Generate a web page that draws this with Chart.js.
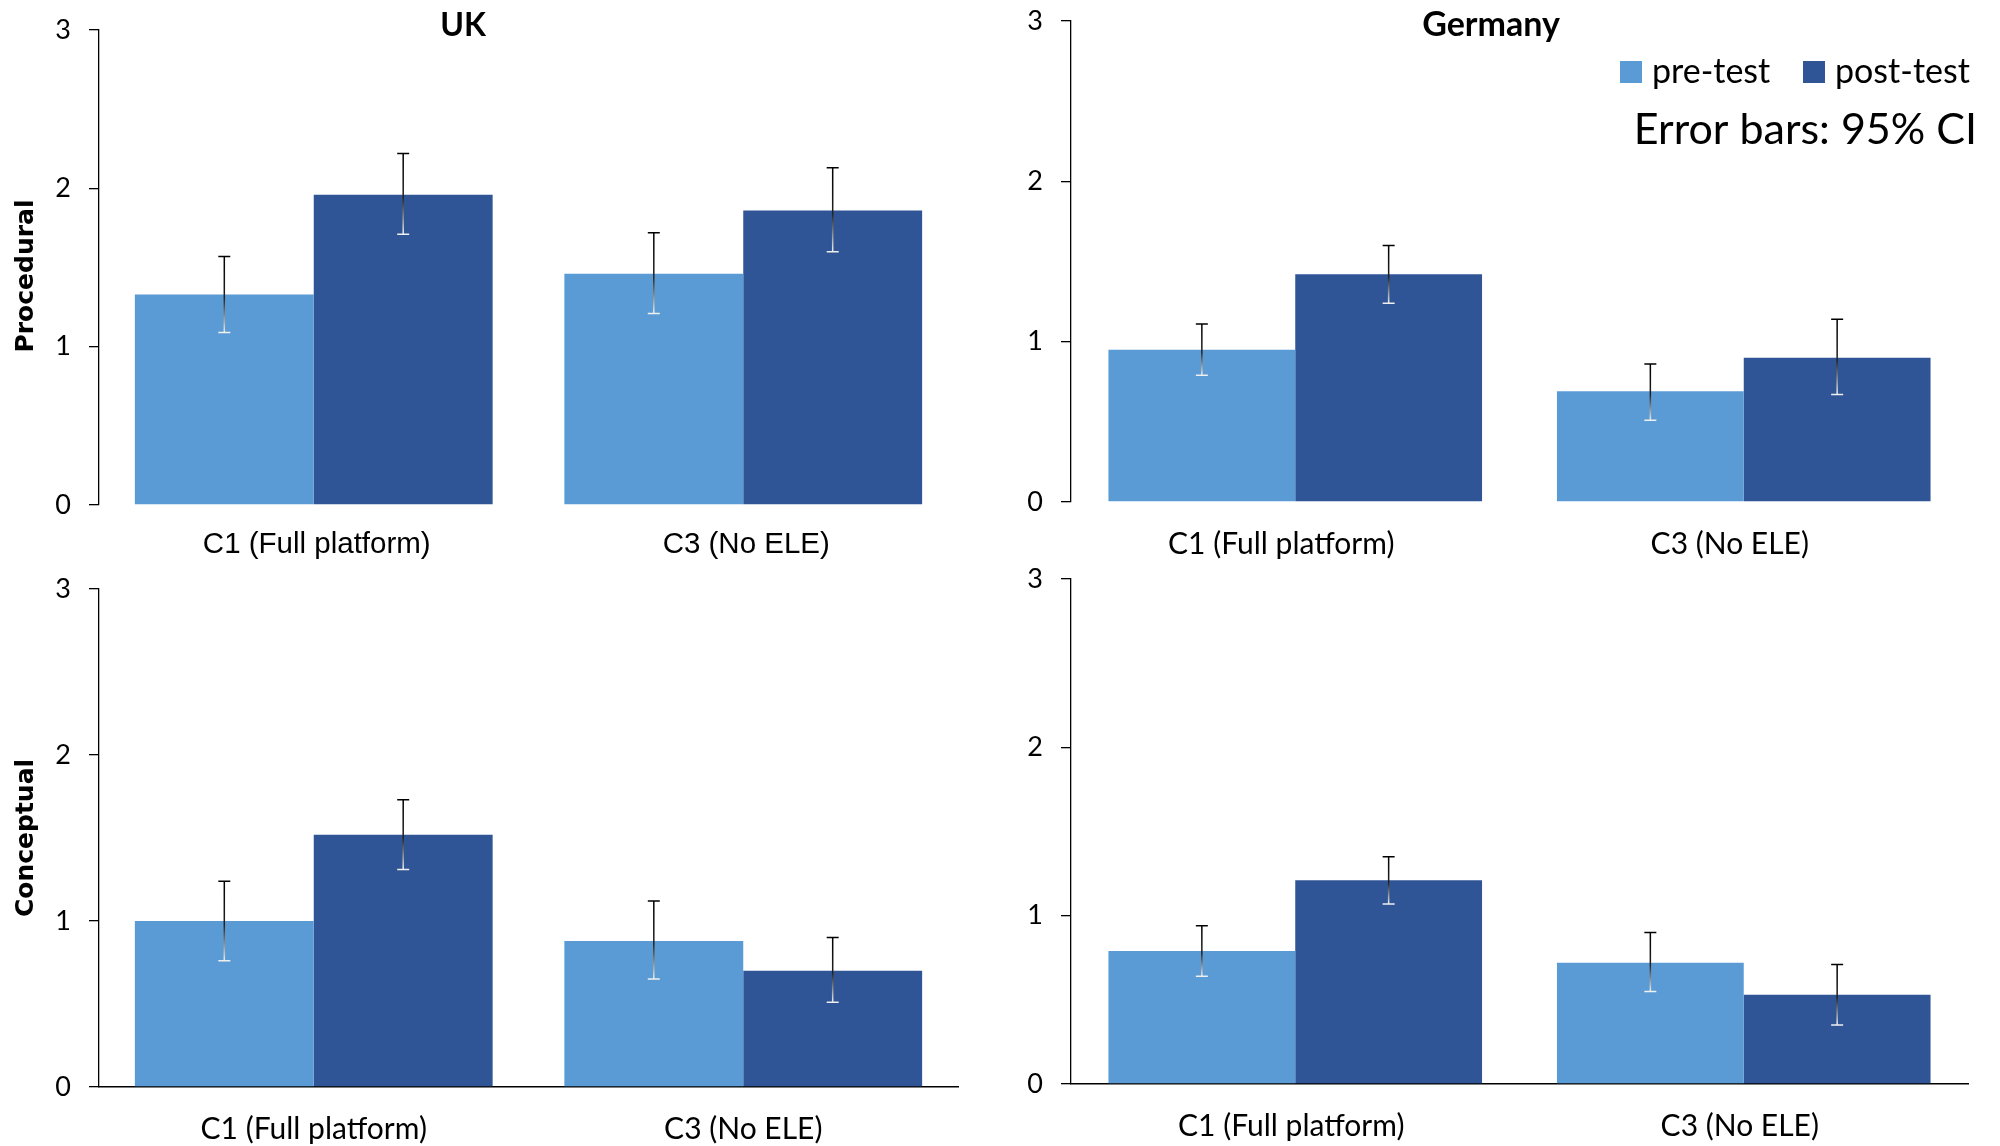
<!DOCTYPE html>
<html>
<head>
<meta charset="utf-8">
<script src="https://cdn.jsdelivr.net/npm/chart.js@4.4.1/dist/chart.umd.min.js"></script>
<style>
    html, body { margin: 0; padding: 0; background: #fff; }
    #wrap { position: relative; width: 2000px; height: 1146px; }
    #wrap canvas { position: absolute; left: 0; top: 0; }
</style>
</head>
<body>
<div id="wrap">
    <canvas id="ukProc" width="2000" height="1146"></canvas>
    <canvas id="deProc" width="2000" height="1146"></canvas>
    <canvas id="ukConc" width="2000" height="1146"></canvas>
    <canvas id="deConc" width="2000" height="1146"></canvas>
</div>
<script>
// data
const categories = ['C1 (Full platform)', 'C3 (No ELE)'];
const yTicks = [0, 1, 2, 3];

// UK - procedural
const ukProcPre = [1.33, 1.46];
const ukProcPreLow = [1.09, 1.21];
const ukProcPreHigh = [1.57, 1.72];
const ukProcPost = [1.96, 1.86];
const ukProcPostLow = [1.71, 1.60];
const ukProcPostHigh = [2.22, 2.13];

// Germany - procedural
const deProcPre = [0.95, 0.69];
const deProcPreLow = [0.79, 0.51];
const deProcPreHigh = [1.11, 0.86];
const deProcPost = [1.42, 0.90];
const deProcPostLow = [1.24, 0.67];
const deProcPostHigh = [1.60, 1.14];

// UK - conceptual
const ukConcPre = [1.00, 0.88];
const ukConcPreLow = [0.76, 0.65];
const ukConcPreHigh = [1.24, 1.12];
const ukConcPost = [1.52, 0.70];
const ukConcPostLow = [1.31, 0.51];
const ukConcPostHigh = [1.73, 0.90];

// Germany - conceptual
const deConcPre = [0.79, 0.72];
const deConcPreLow = [0.64, 0.55];
const deConcPreHigh = [0.94, 0.90];
const deConcPost = [1.21, 0.53];
const deConcPostLow = [1.07, 0.35];
const deConcPostHigh = [1.35, 0.71];

const PRE_COLOR = '#5B9BD5';
const POST_COLOR = '#2F5597';

// error bars: black at the top, fading to white at the lower cap
const errorBars = {
    id: 'errorBars',
    afterDatasetsDraw(chart) {
        const ctx = chart.ctx;
        const y = chart.scales.y;
        chart.data.datasets.forEach((ds, i) => {
            chart.getDatasetMeta(i).data.forEach((bar, j) => {
                const top = y.getPixelForValue(ds.ciHigh[j]);
                const bot = y.getPixelForValue(ds.ciLow[j]);
                const g = ctx.createLinearGradient(0, top, 0, bot);
                g.addColorStop(0, '#000');
                g.addColorStop(0.55, '#222');
                g.addColorStop(1, '#f0f0f0');
                ctx.save();
                ctx.strokeStyle = g;
                ctx.lineWidth = 1.5;
                ctx.beginPath();
                ctx.moveTo(bar.x, top); ctx.lineTo(bar.x, bot);
                ctx.moveTo(bar.x - 6, top); ctx.lineTo(bar.x + 6, top);
                ctx.moveTo(bar.x - 6, bot); ctx.lineTo(bar.x + 6, bot);
                ctx.stroke();
                ctx.restore();
            });
        });
    }
};

// panel title, row label, legend and note
const panelText = {
    id: 'panelText',
    afterDraw(chart, args, opts) {
        const ctx = chart.ctx;
        ctx.save();
        ctx.fillStyle = '#000';
        if (opts.title) {
            ctx.font = 'bold ' + opts.titleSize + 'px Lato';
            ctx.textAlign = 'center';
            ctx.textBaseline = 'alphabetic';
            ctx.fillText(opts.title, opts.titleX, opts.titleY);
        }
        if (opts.rowLabel) {
            ctx.save();
            ctx.translate(opts.rowX, opts.rowY);
            ctx.rotate(-Math.PI / 2);
            ctx.font = 'bold 25px "DejaVu Sans"';
            ctx.textAlign = 'center';
            ctx.textBaseline = 'middle';
            ctx.fillText(opts.rowLabel, 0, 0);
            ctx.restore();
        }
        if (opts.legend) {
            const ds = chart.data.datasets;
            const items = [[1620, 1652], [1803, 1835]];
            ctx.font = '34px Lato';
            ctx.textAlign = 'left';
            ctx.textBaseline = 'alphabetic';
            ds.forEach((d, i) => {
                ctx.fillStyle = d.backgroundColor;
                ctx.fillRect(items[i][0], 61, 22, 22);
                ctx.fillStyle = '#000';
                ctx.fillText(d.label, items[i][1], 83);
            });
            ctx.font = '43px Lato';
            ctx.textAlign = 'right';
            ctx.fillText('Error bars: 95% CI', 1977, 144);
        }
        ctx.restore();
    }
};

function makePanel(id, area, pre, preLow, preHigh, post, postLow, postHigh, opts) {
    const yWidth = 60, xHeight = 60;
    return new Chart(document.getElementById(id), {
        type: 'bar',
        data: {
            labels: categories,
            datasets: [{
                label: 'pre-test',
                data: pre,
                ciLow: preLow,
                ciHigh: preHigh,
                backgroundColor: PRE_COLOR,
                categoryPercentage: 0.833,
                barPercentage: 1.0
            }, {
                label: 'post-test',
                data: post,
                ciLow: postLow,
                ciHigh: postHigh,
                backgroundColor: POST_COLOR,
                categoryPercentage: 0.833,
                barPercentage: 1.0
            }]
        },
        options: {
            responsive: false,
            animation: false,
            events: [],
            layout: {
                padding: {
                    left: area.left - yWidth,
                    right: 2000 - area.right,
                    top: area.top,
                    bottom: 1146 - area.bottom - xHeight
                }
            },
            plugins: {
                legend: { display: false },
                tooltip: { enabled: false },
                panelText: opts
            },
            scales: {
                x: {
                    grid: { display: false, drawTicks: false },
                    border: { display: opts.xLine, color: '#000', width: 1.5 },
                    ticks: {
                        color: '#000',
                        padding: opts.xPad,
                        labelOffset: opts.xShift,
                        font: { family: opts.xFont, size: opts.xSize }
                    },
                    afterFit: s => { s.height = xHeight; }
                },
                y: {
                    min: yTicks[0],
                    max: yTicks[yTicks.length - 1],
                    afterBuildTicks: s => { s.ticks = yTicks.map(v => ({ value: v })); },
                    grid: {
                        drawOnChartArea: false,
                        drawTicks: true,
                        tickLength: 10,
                        color: '#000',
                        lineWidth: 1.3
                    },
                    border: { color: '#000', width: 1.3 },
                    ticks: {
                        color: '#000',
                        padding: 18,
                        font: { family: 'Lato', size: 27 }
                    },
                    afterFit: s => {
                        s.width = yWidth;
                        s.paddingTop = 0;
                        s.paddingBottom = 0;
                    }
                }
            }
        },
        plugins: [errorBars, panelText]
    });
}

makePanel('ukProc', { left: 99, right: 958, top: 30, bottom: 505 },
    ukProcPre, ukProcPreLow, ukProcPreHigh, ukProcPost, ukProcPostLow, ukProcPostHigh,
    { title: 'UK', titleSize: 32, titleX: 463, titleY: 36, rowLabel: 'Procedural', rowX: 26, rowY: 276,
      xLine: false, xFont: '"Liberation Sans"', xSize: 29.5, xPad: 22, xShift: 3 });

makePanel('deProc', { left: 1071, right: 1968, top: 21, bottom: 502 },
    deProcPre, deProcPreLow, deProcPreHigh, deProcPost, deProcPostLow, deProcPostHigh,
    { title: 'Germany', titleSize: 34, titleX: 1491, titleY: 36, legend: true,
      xLine: false, xFont: 'Lato', xSize: 30, xPad: 24, xShift: -14 });

makePanel('ukConc', { left: 99, right: 958, top: 589, bottom: 1087 },
    ukConcPre, ukConcPreLow, ukConcPreHigh, ukConcPost, ukConcPostLow, ukConcPostHigh,
    { rowLabel: 'Conceptual', rowX: 26, rowY: 838, xLine: true, xFont: 'Lato', xSize: 30, xPad: 24, xShift: 0 });

makePanel('deConc', { left: 1071, right: 1968, top: 579, bottom: 1084 },
    deConcPre, deConcPreLow, deConcPreHigh, deConcPost, deConcPostLow, deConcPostHigh,
    { xLine: true, xFont: 'Lato', xSize: 30, xPad: 24, xShift: -4 });
</script>
</body>
</html>
